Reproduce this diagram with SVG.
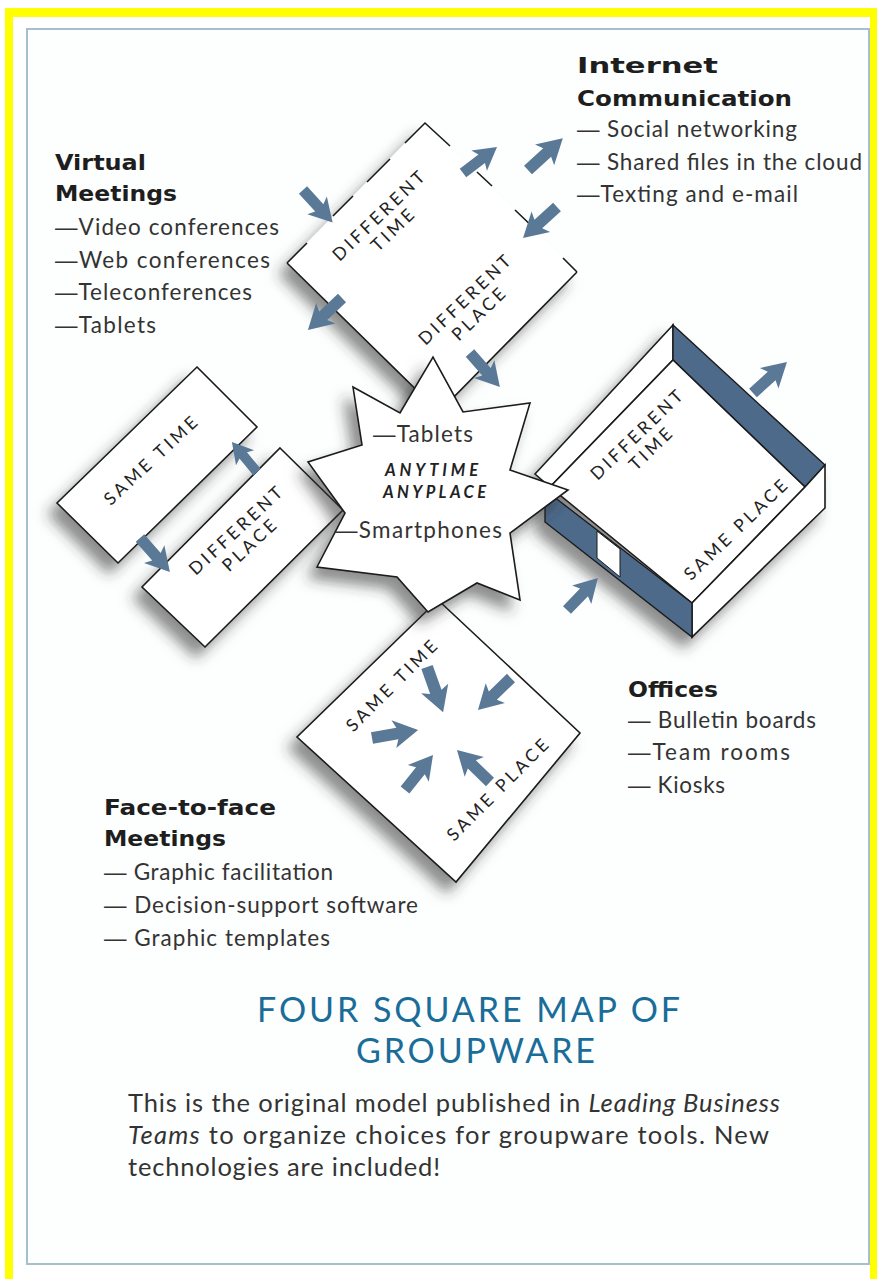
<svg xmlns="http://www.w3.org/2000/svg" xmlns:xlink="http://www.w3.org/1999/xlink" width="877" height="1279" viewBox="0 0 877 1279">
<style>
.head{font-family:"DejaVu Sans",Lato,sans-serif;font-weight:bold;font-size:22px;fill:#1e1e1e}
.item{font-family:Lato,"Open Sans",sans-serif;font-size:22.5px;fill:#333}
.d{font-family:"Liberation Sans",Arial,sans-serif}
.lab{font-family:Lato,"Open Sans",sans-serif;font-size:17.5px;fill:#222;letter-spacing:3.4px;text-anchor:middle}
.shape{fill:#fff;stroke:#1a1a1a;stroke-width:1.6;stroke-linejoin:miter}
.edge{stroke:#1a1a1a;stroke-width:1.6;fill:none}
.dark{fill:#4d6b8b;stroke:#1a1a1a;stroke-width:1.4}
.arrow{fill:#5a7996}
.title{font-family:Lato,"Open Sans",sans-serif;font-size:34px;fill:#1a6c99}
.para{font-family:Lato,"Open Sans",sans-serif;font-size:25.5px;fill:#333}
.any{font-family:Lato,"Open Sans",sans-serif;font-weight:700;font-style:italic;font-size:16.5px;fill:#222}
</style>
<defs>
<filter id="sh" x="-30%" y="-30%" width="160%" height="160%">
<feDropShadow dx="-9" dy="11" stdDeviation="7" flood-color="#333" flood-opacity="0.55"/>
</filter>
<path id="arr" d="M0,-5 L22,-5 L19,-12 L40,0 L19,12 L22,5 L0,5 Z"/>
</defs>

<rect x="0" y="0" width="877" height="1279" fill="#fff"/>
<g id="frame">
<rect x="5" y="8" width="872" height="9" fill="#ffff00"/>
<rect x="5" y="8" width="8" height="1271" fill="#ffff00"/>
<rect x="870" y="8" width="7" height="1271" fill="#ffff00"/>
<rect x="27" y="29" width="842" height="1235" fill="#fdfefe" stroke="#a6bfcf" stroke-width="2"/>
</g>

<g id="virtual-meetings-text">
<text class="head" x="55" y="170" textLength="91" lengthAdjust="spacingAndGlyphs">Virtual</text>
<text class="head" x="55" y="201" textLength="122" lengthAdjust="spacingAndGlyphs">Meetings</text>
<text class="item" x="55" y="235" textLength="224"><tspan class="d">—</tspan>Video conferences</text>
<text class="item" x="55" y="268" textLength="215"><tspan class="d">—</tspan>Web conferences</text>
<text class="item" x="55" y="300" textLength="197"><tspan class="d">—</tspan>Teleconferences</text>
<text class="item" x="55" y="333" textLength="101"><tspan class="d">—</tspan>Tablets</text>
</g>

<g id="internet-text">
<text class="head" x="577" y="73" textLength="141" lengthAdjust="spacingAndGlyphs">Internet</text>
<text class="head" x="577" y="106" textLength="215" lengthAdjust="spacingAndGlyphs">Communication</text>
<text class="item" x="577" y="137" textLength="220"><tspan class="d">—</tspan> Social networking</text>
<text class="item" x="577" y="170" textLength="285"><tspan class="d">—</tspan> Shared files in the cloud</text>
<text class="item" x="577" y="202" textLength="221"><tspan class="d">—</tspan>Texting and e-mail</text>
</g>

<g id="offices-text">
<text class="head" x="628" y="697" textLength="90" lengthAdjust="spacingAndGlyphs">Offices</text>
<text class="item" x="628" y="728" textLength="188"><tspan class="d">—</tspan> Bulletin boards</text>
<text class="item" x="628" y="760" textLength="162"><tspan class="d">—</tspan>Team rooms</text>
<text class="item" x="628" y="793" textLength="97"><tspan class="d">—</tspan> Kiosks</text>
</g>

<g id="face-text">
<text class="head" x="104" y="815" textLength="172" lengthAdjust="spacingAndGlyphs">Face-to-face</text>
<text class="head" x="104" y="846" textLength="122" lengthAdjust="spacingAndGlyphs">Meetings</text>
<text class="item" x="104" y="880" textLength="229"><tspan class="d">—</tspan> Graphic facilitation</text>
<text class="item" x="104" y="913" textLength="314"><tspan class="d">—</tspan> Decision-support software</text>
<text class="item" x="104" y="946" textLength="226"><tspan class="d">—</tspan> Graphic templates</text>
</g>

<g id="node-different-time-different-place">
<polygon points="425,123 577,272 439,412 287,263" fill="#fff" filter="url(#sh)"/>
<path class="edge" d="M577,272 L439,412 L287,263 M287,263 L307,243 M333,216 L353,196 M367,182 L390,159 M405,143 L425,123 L450,146 M477,172 L492,186 M515,210 L537,231 M563,258 L577,272"/>
<g transform="translate(384,219) rotate(-44)"><text class="lab" x="0" y="0">DIFFERENT</text><text class="lab" x="0" y="20">TIME</text></g>
<g transform="translate(470,303) rotate(-44)"><text class="lab" x="0" y="0">DIFFERENT</text><text class="lab" x="0" y="20">PLACE</text></g>
</g>

<g id="node-same-time">
<polygon class="shape" points="197,367 257,427 118,563 57,503" filter="url(#sh)"/>
<g transform="translate(156,464) rotate(-43)"><text class="lab" x="0" y="0">SAME TIME</text></g>
</g>

<g id="node-different-place">
<polygon class="shape" points="280,448 343,510 205,647 142,587" filter="url(#sh)"/>
<g transform="translate(241,534) rotate(-43)"><text class="lab" x="0" y="0">DIFFERENT</text><text class="lab" x="0" y="20">PLACE</text></g>
</g>

<g id="node-same-time-same-place">
<polygon class="shape" points="438,600 580,733 456,882 297,737" filter="url(#sh)"/>
<g transform="translate(397,689) rotate(-45)"><text class="lab" x="0" y="0">SAME TIME</text></g>
<g transform="translate(503,793) rotate(-45)"><text class="lab" x="0" y="0">SAME PLACE</text></g>
</g>

<g id="node-different-time-same-place">
<g filter="url(#sh)">
<polygon class="shape" points="535,474 673,325 673,360 550,487"/>
<polygon class="dark" points="673,325 825,465 805,487 673,360"/>
<polygon class="shape" points="673,360 805,487 692,603 550,487"/>
<polygon class="shape" points="825,465 825,508 692,637 692,603 805,487"/>
<polygon class="dark" points="545,490 692,603 692,637 545,522"/>
<polygon points="597,531 620,549 620,577 597,558" fill="#fff" stroke="#1a1a1a" stroke-width="1"/>
</g>
<g transform="translate(642,438) rotate(-44)"><text class="lab" x="0" y="0">DIFFERENT</text><text class="lab" x="0" y="20">TIME</text></g>
<g transform="translate(741,533) rotate(-44)"><text class="lab" x="0" y="0">SAME PLACE</text></g>
</g>

<g id="node-anytime-anyplace">
<polygon class="shape" points="353,387 400,413 433,357 463,412 530,403 510,470 568,490 510,533 520,600 477,583 428,612 397,577 317,567 345,513 308,462 362,445" filter="url(#sh)"/>
<text class="item" x="373" y="442" textLength="100"><tspan class="d">—</tspan>Tablets</text>
<text class="any" x="385" y="476" textLength="93">ANYTIME</text>
<text class="any" x="383" y="498" textLength="103">ANYPLACE</text>
<text class="item" x="335" y="538" textLength="167"><tspan class="d">—</tspan>Smartphones</text>
</g>

<g id="connectors" class="arrow">
<use xlink:href="#arr" transform="translate(303,190) rotate(47.7) scale(1.1)"/>
<use xlink:href="#arr" transform="translate(463,173) rotate(-37.4) scale(1.07)"/>
<use xlink:href="#arr" transform="translate(528,170) rotate(-42.4) scale(1.18)"/>
<use xlink:href="#arr" transform="translate(557,207) rotate(137.6) scale(1.15)"/>
<use xlink:href="#arr" transform="translate(342,298) rotate(136.7) scale(1.17)"/>
<use xlink:href="#arr" transform="translate(470,353) rotate(48.6) scale(1.13)"/>
<use xlink:href="#arr" transform="translate(257,472) rotate(-129.8) scale(0.98)"/>
<use xlink:href="#arr" transform="translate(140,538) rotate(48.6) scale(1.13)"/>
<use xlink:href="#arr" transform="translate(753,393) rotate(-42.4) scale(1.15)"/>
<use xlink:href="#arr" transform="translate(567,610) rotate(-45.9) scale(1.11)"/>
<use xlink:href="#arr" transform="translate(427,667) rotate(70.4) scale(1.2)"/>
<use xlink:href="#arr" transform="translate(511,678) rotate(135.9) scale(1.15)"/>
<use xlink:href="#arr" transform="translate(372,738) rotate(-9.9) scale(1.17)"/>
<use xlink:href="#arr" transform="translate(405,790) rotate(-51.3) scale(1.12)"/>
<use xlink:href="#arr" transform="translate(490,782) rotate(-135.9) scale(1.15)"/>
</g>

<g id="caption">
<text class="title" x="257" y="1022" textLength="423">FOUR SQUARE MAP OF</text>
<text class="title" x="356" y="1063" textLength="239">GROUPWARE</text>
<text class="para" x="128" y="1112" textLength="652">This is the original model published in <tspan font-style="italic">Leading Business</tspan></text>
<text class="para" x="128" y="1144" textLength="641"><tspan font-style="italic">Teams</tspan> to organize choices for groupware tools. New</text>
<text class="para" x="128" y="1176" textLength="312">technologies are included!</text>
</g>
</svg>
